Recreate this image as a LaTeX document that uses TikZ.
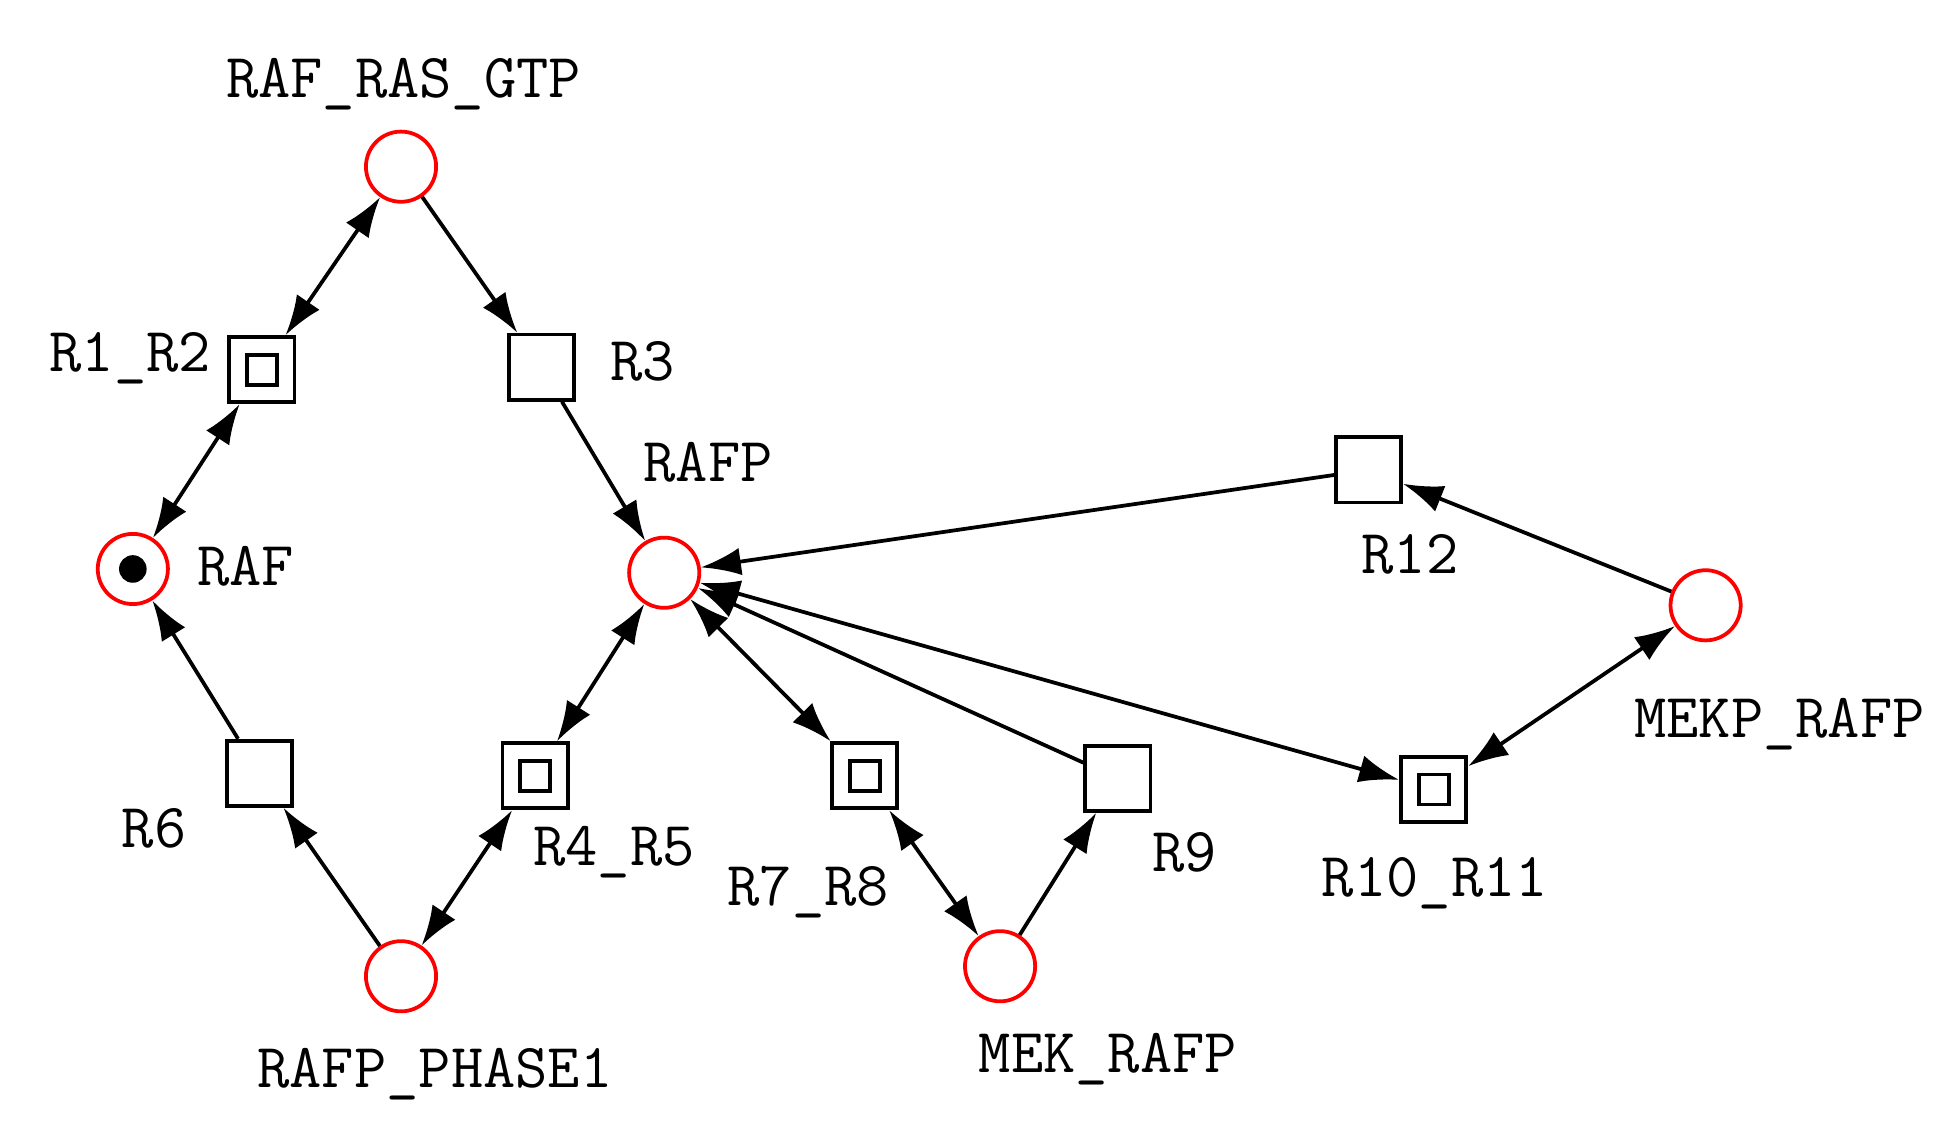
\documentclass[tikz,border=0pt]{standalone}
\usetikzlibrary{arrows.meta}
\begin{document}
\begin{tikzpicture}[x=1pt,y=-1pt,
  pl/.style={circle,draw=red,line width=3pt,minimum size=56pt,inner sep=0pt},
  tr/.style={rectangle,draw,line width=3pt,minimum size=52pt,inner sep=0pt},
  trd/.style={tr,path picture={\draw[line width=3pt] (path picture bounding box.center) +(-12pt,-12pt) rectangle +(12pt,12pt);}},
  lb/.style={font=\fontsize{50}{56}\selectfont\ttfamily,inner sep=0pt},
  e/.style={line width=3pt,-{Latex[length=32pt,width=22pt]}},
  ee/.style={line width=3pt,{Latex[length=32pt,width=22pt]}-{Latex[length=32pt,width=22pt]}}]
\useasboundingbox (0,0) rectangle (1560,903);
\node[pl] (rrg) at (320,133) {};
\node[trd] (r12) at (209,295) {};
\node[tr] (r3) at (432,293) {};
\node[pl] (raf) at (106,454) {};
\fill (106,454) circle (11pt);
\node[pl] (rafp) at (530,457) {};
\node[tr] (r12b) at (1092,375) {};
\node[pl] (mekp) at (1361,483) {};
\node[tr] (r6) at (207,617) {};
\node[trd] (r45) at (427,619) {};
\node[trd] (r78) at (690,619) {};
\node[tr] (r9) at (892,621) {};
\node[trd] (r1011) at (1144,630) {};
\node[pl] (ph1) at (320,779) {};
\node[pl] (mek) at (798,771) {};
\node[lb] (l1) at (322,67) {RAF\_RAS\_GTP};
\node[lb] (l2) at (104,286) {R1\_R2};
\node[lb] (l3) at (513,288) {R3};
\node[lb] (l4) at (565,369) {RAFP};
\node[lb] (l5) at (196,452) {RAF};
\node[lb] (l6) at (1125,442) {R12};
\node[lb] (l7) at (1420,578) {MEKP\_RAFP};
\node[lb] (l8) at (123,661) {R6};
\node[lb] (l9) at (490,680) {R4\_R5};
\node[lb] (l10) at (645,712) {R7\_R8};
\node[lb] (l11) at (945,680) {R9};
\node[lb] (l12) at (1145,705) {R10\_R11};
\node[lb] (l13) at (347,857) {RAFP\_PHASE1};
\node[lb] (l14) at (884,845) {MEK\_RAFP};
\draw[ee] (rrg) -- (r12);
\draw[e] (rrg) -- (r3);
\draw[ee] (r12) -- (raf);
\draw[e] (r3) -- (rafp);
\draw[e] (r12b) -- (rafp);
\draw[e] (mekp) -- (r12b);
\draw[ee] (rafp) -- (r45);
\draw[ee] (rafp) -- (r78);
\draw[e] (r9) -- (rafp);
\draw[ee] (rafp) -- (r1011);
\draw[ee] (mekp) -- (r1011);
\draw[e] (r6) -- (raf);
\draw[e] (ph1) -- (r6);
\draw[ee] (ph1) -- (r45);
\draw[ee] (r78) -- (mek);
\draw[e] (mek) -- (r9);
\end{tikzpicture}
\end{document}
